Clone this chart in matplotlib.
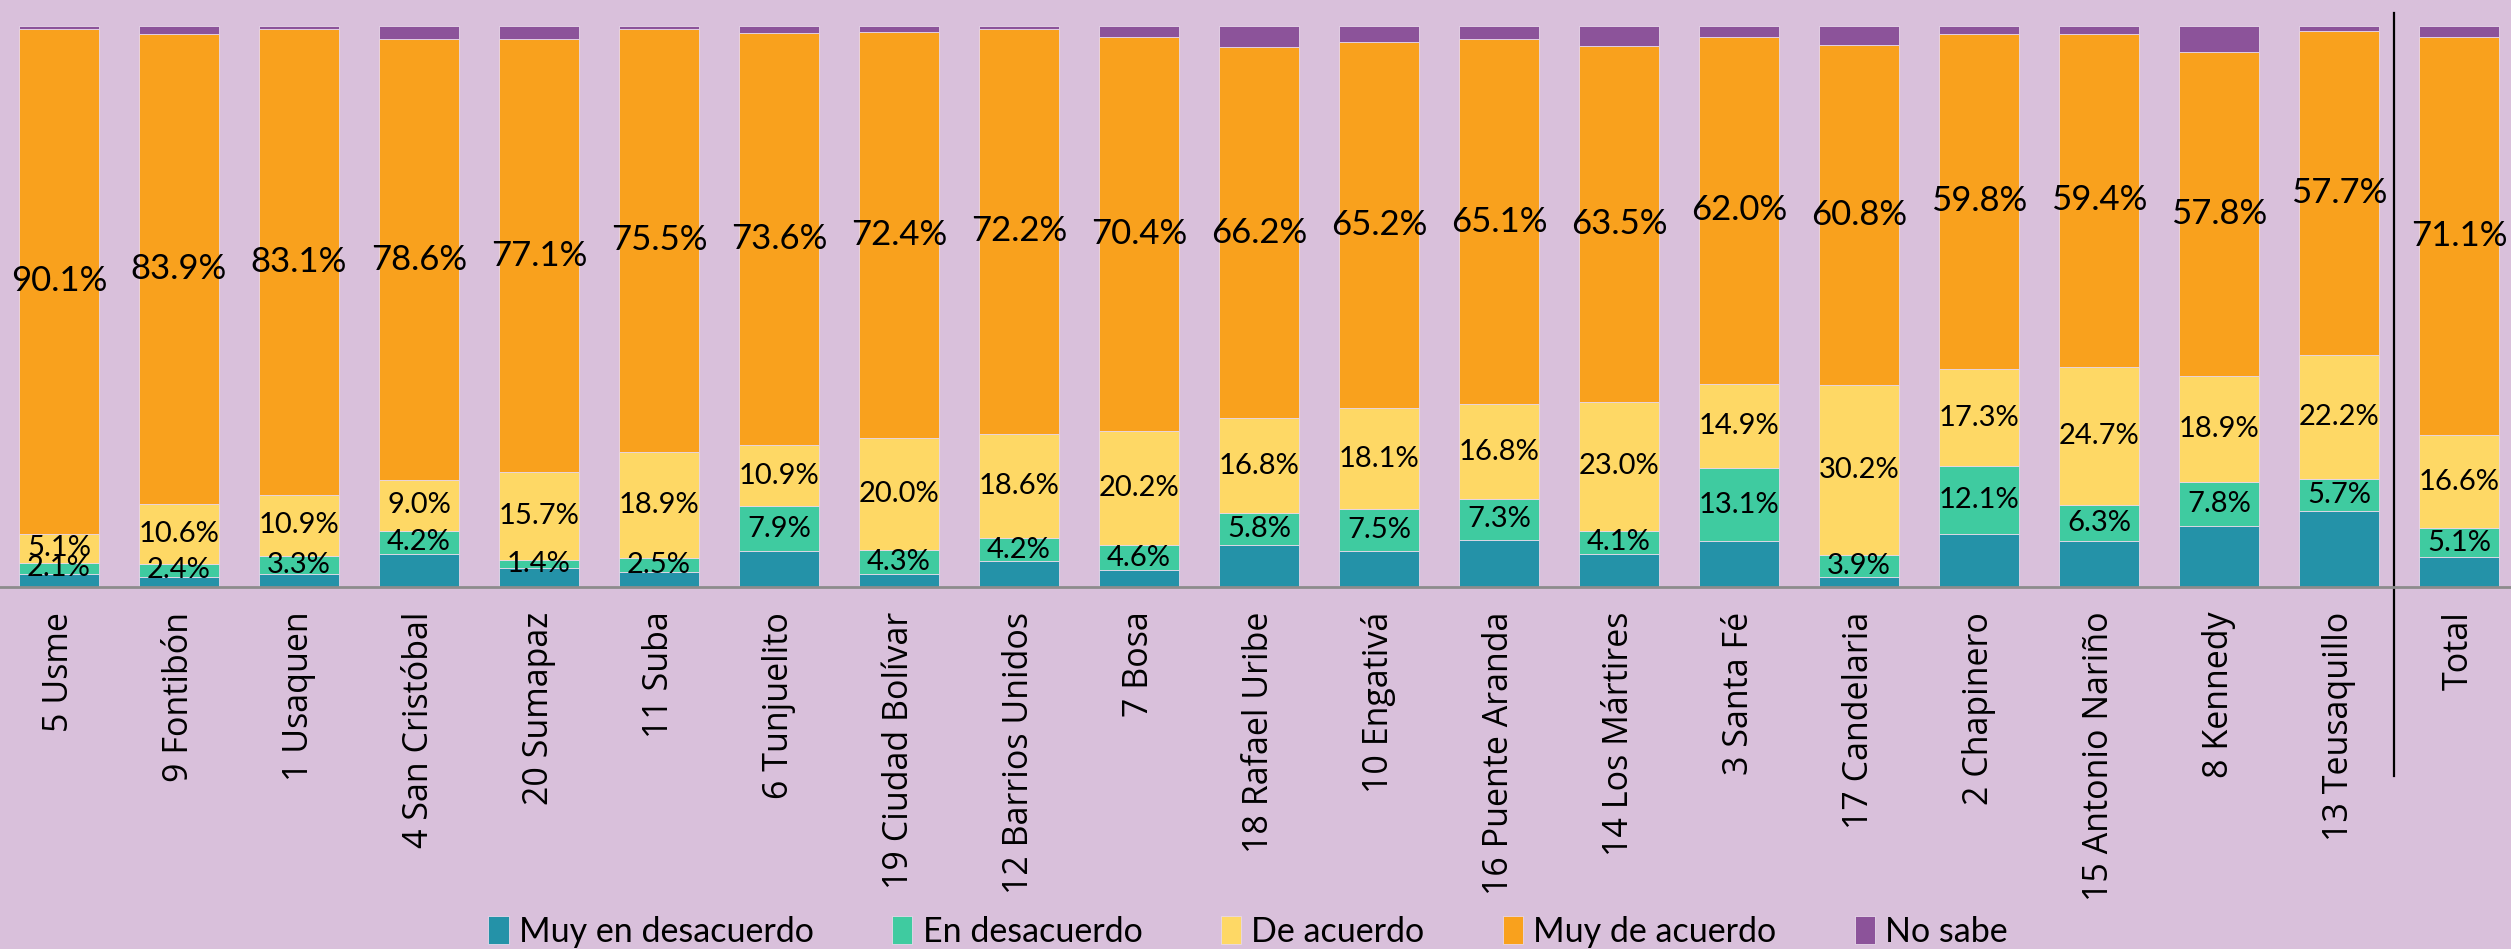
import matplotlib as mpl
import matplotlib.pyplot as plt
import numpy as np

localidades = ["5 Usme", "9 Fontibón", "1 Usaquen", "4 San Cristóbal", "20 Sumapaz",
               "11 Suba", "6 Tunjuelito", "19 Ciudad Bolívar", "12 Barrios Unidos", "7 Bosa",
               "18 Rafael Uribe", "10 Engativá", "16 Puente Aranda", "14 Los Mártires",
               "3 Santa Fé", "17 Candelaria", "2 Chapinero", "15 Antonio Nariño",
               "8 Kennedy", "13 Teusaquillo", "Total"]

muy_en_desacuerdo = [2.2, 1.7, 2.2, 5.8, 3.4, 2.6, 6.4, 2.3, 4.5, 2.9, 7.4, 6.3, 8.4,
                     5.9, 8.1, 1.8, 9.4, 8.2, 10.8, 13.5, 5.3]
en_desacuerdo = [2.1, 2.4, 3.3, 4.2, 1.4, 2.5, 7.9, 4.3, 4.2, 4.6, 5.8, 7.5, 7.3,
                 4.1, 13.1, 3.9, 12.1, 6.3, 7.8, 5.7, 5.1]
de_acuerdo = [5.1, 10.6, 10.9, 9.0, 15.7, 18.9, 10.9, 20.0, 18.6, 20.2, 16.8, 18.1, 16.8,
              23.0, 14.9, 30.2, 17.3, 24.7, 18.9, 22.2, 16.6]
muy_de_acuerdo = [90.1, 83.9, 83.1, 78.6, 77.1, 75.5, 73.6, 72.4, 72.2, 70.4, 66.2, 65.2, 65.1,
                  63.5, 62.0, 60.8, 59.8, 59.4, 57.8, 57.7, 71.1]
no_sabe = [0.5, 1.4, 0.5, 2.4, 2.4, 0.5, 1.2, 1.0, 0.5, 1.9, 3.8, 2.9, 2.4,
           3.5, 1.9, 3.3, 1.4, 1.4, 4.7, 0.9, 1.9]

series = [("Muy en desacuerdo", muy_en_desacuerdo, "#2492A8", False),
          ("En desacuerdo", en_desacuerdo, "#3FCBA0", True),
          ("De acuerdo", de_acuerdo, "#FED865", True),
          ("Muy de acuerdo", muy_de_acuerdo, "#F9A11D", True),
          ("No sabe", no_sabe, "#8C539A", False)]

bg = "#D9C0DB"
label_font = "Lato"

fig = plt.figure(figsize=(25.11, 9.49), dpi=100, facecolor=bg)
ax = fig.add_axes([0, 0.3818, 1, 0.5908])
ax.set_facecolor(bg)

x = np.arange(len(localidades))
bottom = np.zeros(len(localidades))
for name, vals, color, show in series:
    vals = np.array(vals)
    ax.bar(x, vals, 0.667, bottom=bottom, color=color, label=name,
           edgecolor="#E8D8EA", linewidth=0.6)
    if show:
        size = 25 if name == "Muy de acuerdo" else 21
        for xi, b, v in zip(x, bottom, vals):
            ax.text(xi, b + v / 2, "{:.1f}%".format(v), ha="center", va="center",
                    fontsize=size, family=label_font, color="black")
    bottom = bottom + vals

ax.set_xlim(-59 / 120, -59 / 120 + 2511 / 120)
ax.set_ylim(0, 100)
for s in ["top", "right", "left"]:
    ax.spines[s].set_visible(False)
ax.spines["bottom"].set_color("#8C8C8C")
ax.spines["bottom"].set_linewidth(2)
ax.set_yticks([])
ax.set_xticks(x)
ax.set_xticklabels(localidades, rotation=90, fontsize=24.5, family="Open Sans")
ax.tick_params(axis="x", length=0, pad=18)

# separador antes del total
ax.axvline(19.46, ymin=-0.338, ymax=1.023, clip_on=False, color="black", lw=1.6)

fig.legend(loc="center", bbox_to_anchor=(0.497, 0.018), ncol=5, frameon=False,
           prop={"family": label_font, "size": 24.5}, handlelength=0.6, handleheight=0.9,
           handletextpad=0.3, columnspacing=2.3)

fig.savefig("out.png", dpi=100, facecolor=bg)
